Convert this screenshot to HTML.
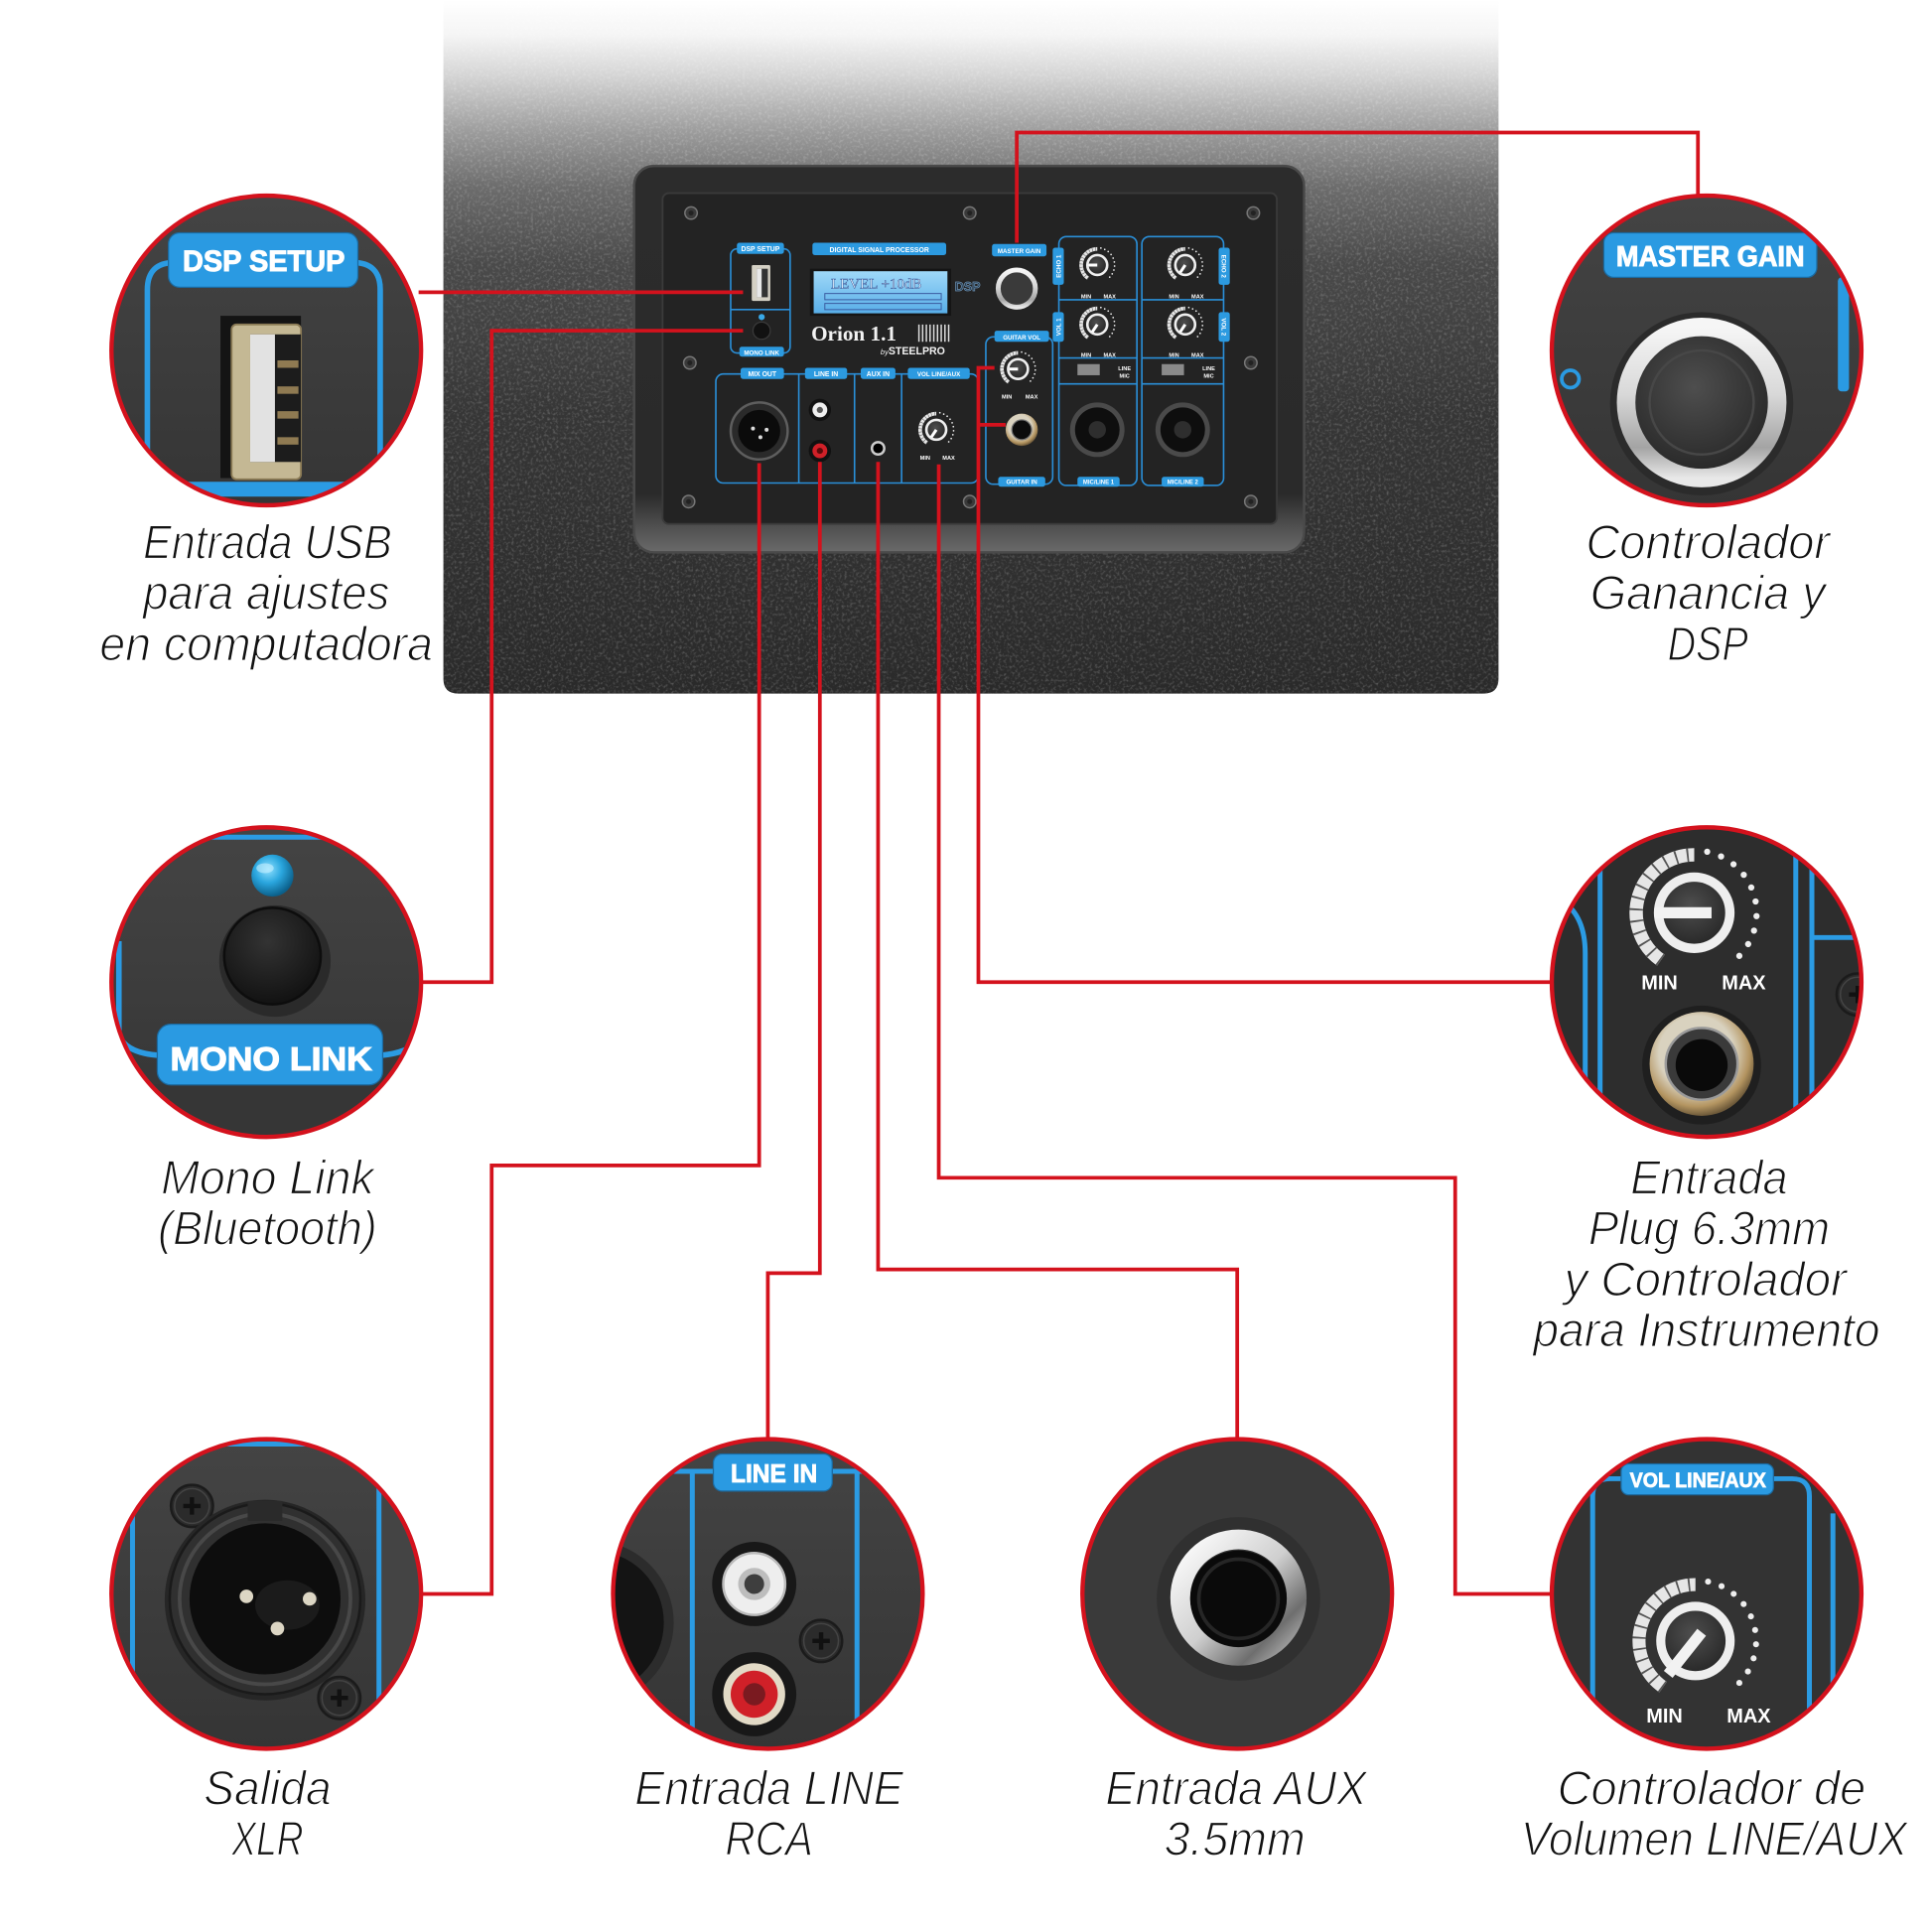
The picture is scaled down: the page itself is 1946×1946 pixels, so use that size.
<!DOCTYPE html>
<html><head><meta charset="utf-8">
<style>
html,body{margin:0;padding:0;background:#fff;}
svg{display:block;}
.lbl{font-family:"Liberation Sans",sans-serif;font-style:italic;font-size:39px;fill:#121212;text-anchor:middle;stroke:#fff;stroke-width:1.1px;}
.pt{font-family:"Liberation Sans",sans-serif;font-weight:bold;fill:#fff;text-anchor:middle;}
</style></head>
<body>
<svg xmlns="http://www.w3.org/2000/svg" width="1946" height="1946" viewBox="0 0 1560 1560">
<defs>
 <linearGradient id="cab" x1="0" y1="0" x2="0" y2="560" gradientUnits="userSpaceOnUse">
  <stop offset="0" stop-color="#ffffff"/>
  <stop offset="0.05" stop-color="#f5f5f5"/>
  <stop offset="0.11" stop-color="#d4d4d4"/>
  <stop offset="0.19" stop-color="#9c9c9c"/>
  <stop offset="0.27" stop-color="#6c6c6c"/>
  <stop offset="0.38" stop-color="#4a4a4a"/>
  <stop offset="0.6" stop-color="#363636"/>
  <stop offset="1" stop-color="#2a2a2a"/>
 </linearGradient>
 <linearGradient id="bevel" x1="0" y1="0" x2="0" y2="1">
  <stop offset="0" stop-color="#2c2c2c"/>
  <stop offset="0.85" stop-color="#2a2a2a"/>
  <stop offset="0.93" stop-color="#4e4e4e"/>
  <stop offset="1" stop-color="#6a6a6a"/>
 </linearGradient>
 <linearGradient id="lcd" x1="0" y1="0" x2="0" y2="1">
  <stop offset="0" stop-color="#9fd8f8"/>
  <stop offset="1" stop-color="#58aee8"/>
 </linearGradient>
 <linearGradient id="silver" x1="0" y1="0" x2="0" y2="1">
  <stop offset="0" stop-color="#f6f6f6"/>
  <stop offset="0.45" stop-color="#d8d8d8"/>
  <stop offset="0.8" stop-color="#a4a4a4"/>
  <stop offset="1" stop-color="#e8e8e8"/>
 </linearGradient>
 <linearGradient id="silver2" x1="0" y1="0" x2="1" y2="1">
  <stop offset="0" stop-color="#ffffff"/>
  <stop offset="0.5" stop-color="#cfcfcf"/>
  <stop offset="0.8" stop-color="#6e6e6e"/>
  <stop offset="1" stop-color="#bdbdbd"/>
 </linearGradient>
 <radialGradient id="gold" cx="0.45" cy="0.4" r="0.6">
  <stop offset="0.6" stop-color="#d9d2bf"/>
  <stop offset="0.85" stop-color="#b49561"/>
  <stop offset="1" stop-color="#6e5a3a"/>
 </radialGradient>
 <radialGradient id="disc" cx="0.45" cy="0.4" r="0.6">
  <stop offset="0" stop-color="#4e4e4e"/>
  <stop offset="1" stop-color="#262626"/>
 </radialGradient>
 <radialGradient id="led" cx="0.4" cy="0.35" r="0.65">
  <stop offset="0" stop-color="#8fe0ff"/>
  <stop offset="0.5" stop-color="#2aa6de"/>
  <stop offset="1" stop-color="#0b5f8a"/>
 </radialGradient>
 <radialGradient id="btn" cx="0.45" cy="0.35" r="0.65">
  <stop offset="0" stop-color="#333"/>
  <stop offset="1" stop-color="#121212"/>
 </radialGradient>
 <linearGradient id="cbg" x1="0" y1="0" x2="0" y2="1">
  <stop offset="0" stop-color="#444"/>
  <stop offset="1" stop-color="#353535"/>
 </linearGradient>
 <filter id="grain" x="0" y="0" width="100%" height="100%">
  <feTurbulence type="fractalNoise" baseFrequency="0.45" numOctaves="2" seed="5"/>
  <feColorMatrix type="matrix" values="0 0 0 0 1  0 0 0 0 1  0 0 0 0 1  0 0 0 2.2 -1.05"/>
 </filter>
 <clipPath id="cabclip"><path d="M358,0 H1210 V548 Q1210,560 1198,560 H370 Q358,560 358,548 Z"/></clipPath>
 <clipPath id="k1"><circle cx="215" cy="283" r="124"/></clipPath>
 <clipPath id="k2"><circle cx="1378" cy="283" r="124"/></clipPath>
 <clipPath id="k3"><circle cx="215" cy="793" r="124"/></clipPath>
 <clipPath id="k4"><circle cx="1378" cy="793" r="124"/></clipPath>
 <clipPath id="k5"><circle cx="215" cy="1287" r="124"/></clipPath>
 <clipPath id="k6"><circle cx="620" cy="1287" r="124"/></clipPath>
 <clipPath id="k7"><circle cx="999" cy="1287" r="124"/></clipPath>
 <clipPath id="k8"><circle cx="1378" cy="1287" r="124"/></clipPath>
 <g id="knob">
  <path d="M-7.46,10.65 A13,13 0 0,1 0,-13" fill="none" stroke="#e6e6e6" stroke-width="3"/>
  <path d="M-7.46,10.65 A13,13 0 0,1 0,-13" fill="none" stroke="#555" stroke-width="3" stroke-dasharray="0.4 2.2"/>
  <path d="M2.91,-13.69 A14,14 0 0,1 8.03,11.47" fill="none" stroke="#eee" stroke-width="1.4" stroke-linecap="round" stroke-dasharray="0 3.3"/>
  <circle r="8" fill="url(#disc)" stroke="#eeeeee" stroke-width="2.1"/>
 </g>
 <g id="screw">
  <circle r="5" fill="#3a3a3a" stroke="#777" stroke-width="1.2"/>
  <circle r="2" fill="#222"/>
 </g>
 <g id="bscrew">
  <circle r="17" fill="#2b2b2b" stroke="#1b1b1b" stroke-width="2"/>
  <circle r="14" fill="none" stroke="#444" stroke-width="1.2"/>
  <path d="M-7,0 H7 M0,-7 V7" stroke="#111" stroke-width="3.5"/>
 </g>
</defs>

<rect width="1560" height="1560" fill="#fff"/>

<!-- cabinet -->
<path d="M358,0 H1210 V548 Q1210,560 1198,560 H370 Q358,560 358,548 Z" fill="url(#cab)"/>
<rect x="358" y="0" width="852" height="560" filter="url(#grain)" clip-path="url(#cabclip)" opacity="0.24"/>

<!-- recess -->
<rect x="512" y="134" width="541" height="312" rx="16" fill="url(#bevel)"/>
<rect x="512" y="134" width="541" height="312" rx="16" fill="none" stroke="#4a4a4a" stroke-width="2"/>
<rect x="535" y="156" width="496" height="267" rx="5" fill="#232323" stroke="#3a3a3a" stroke-width="1.5"/>

<!-- screws -->
<use href="#screw" x="558" y="172"/><use href="#screw" x="783" y="172"/><use href="#screw" x="1012" y="172"/>
<use href="#screw" x="557" y="293"/><use href="#screw" x="1010" y="293"/>
<use href="#screw" x="556" y="405"/><use href="#screw" x="783" y="405"/><use href="#screw" x="1010" y="405"/>

<g stroke="#2a8fd8" stroke-width="1.3" fill="none">
 <rect x="590" y="201" width="48" height="84" rx="5"/>
 <line x1="590" y1="250" x2="638" y2="250"/>
 <rect x="855" y="191" width="63" height="201" rx="6"/>
 <rect x="922" y="191" width="66" height="201" rx="6"/>
 <path d="M855,242 H918 M855,289 H918 M855,310 H918 M922,242 H988 M922,289 H988 M922,310 H988"/>
 <rect x="796" y="272" width="54" height="119" rx="6"/>
 <rect x="578" y="302" width="212" height="88" rx="6"/>
 <path d="M645,302 V390 M690,302 V390 M728,302 V390"/>
</g>
<g fill="#2c9ae0">
 <rect x="595" y="196" width="38" height="9" rx="2"/>
 <rect x="597" y="280" width="36" height="8" rx="2"/>
 <rect x="656" y="196" width="108" height="10" rx="2"/>
 <rect x="801" y="197" width="44" height="10" rx="2"/>
 <rect x="803" y="267" width="44" height="9" rx="2"/>
 <rect x="806" y="385" width="38" height="8" rx="2"/>
 <rect x="870" y="385" width="34" height="8" rx="2"/>
 <rect x="938" y="385" width="34" height="8" rx="2"/>
 <rect x="850" y="200" width="9" height="30" rx="2"/>
 <rect x="850" y="252" width="9" height="24" rx="2"/>
 <rect x="984" y="200" width="9" height="30" rx="2"/>
 <rect x="984" y="252" width="9" height="24" rx="2"/>
 <rect x="598" y="297" width="35" height="9" rx="2"/>
 <rect x="650" y="297" width="34" height="9" rx="2"/>
 <rect x="695" y="297" width="28" height="9" rx="2"/>
 <rect x="733" y="297" width="50" height="9" rx="2"/>
</g>
<g class="pt" font-size="5.5">
 <text x="614" y="203">DSP SETUP</text>
 <text x="615" y="286.5" font-size="5">MONO LINK</text>
 <text x="710" y="203.5">DIGITAL SIGNAL PROCESSOR</text>
 <text x="823" y="204.5" font-size="5">MASTER GAIN</text>
 <text x="825" y="274" font-size="5">GUITAR VOL</text>
 <text x="825" y="391" font-size="5">GUITAR IN</text>
 <text x="887" y="391" font-size="4.8">MIC/LINE 1</text>
 <text x="955" y="391" font-size="4.8">MIC/LINE 2</text>
 <text x="615.5" y="304">MIX OUT</text>
 <text x="667" y="304">LINE IN</text>
 <text x="709" y="304">AUX IN</text>
 <text x="758" y="304" font-size="5">VOL LINE/AUX</text>
 <text transform="translate(856.5,215) rotate(-90)" font-size="5">ECHO 1</text>
 <text transform="translate(856.5,264) rotate(-90)" font-size="5">VOL 1</text>
 <text transform="translate(986.5,215) rotate(90)" font-size="5">ECHO 2</text>
 <text transform="translate(986.5,264) rotate(90)" font-size="5">VOL 2</text>
</g>
<!-- DSP setup contents -->
<rect x="607" y="214" width="15" height="29" rx="1" fill="#d4d0c4"/>
<rect x="611" y="217" width="9" height="23" fill="#333"/>
<rect x="611" y="217" width="4" height="23" fill="#e8e8e8"/>
<circle cx="615" cy="256" r="2.5" fill="#39a9e8"/>
<circle cx="615" cy="267" r="7" fill="#111" stroke="#3a3a3a"/>
<!-- LCD -->
<rect x="654" y="217" width="114" height="38" fill="#151515"/>
<rect x="657" y="219" width="108" height="34" fill="url(#lcd)"/>
<text x="671" y="233" font-family="Liberation Serif,serif" font-size="12" fill="#e8f4ff" stroke="#3a5a9a" stroke-width="0.4">LEVEL   +10dB</text>
<rect x="666" y="237" width="94" height="5" fill="none" stroke="#3b5ba0" stroke-width="0.8"/>
<rect x="666" y="245" width="94" height="5" fill="none" stroke="#3b5ba0" stroke-width="0.8"/>
<text x="771" y="235" font-family="Liberation Sans,sans-serif" font-weight="bold" font-size="10" fill="#25384a" stroke="#6a8fb0" stroke-width="0.6">DSP</text>
<text x="655" y="275" font-family="Liberation Serif,serif" font-weight="bold" font-size="17" fill="#f2f2f2">Orion 1.1</text>
<g stroke="#ddd" stroke-width="1.2"><path d="M742,262V276M745,262V276M748,262V276M751,262V276M754,262V276M757,262V276M760,262V276M763,262V276M766,262V276"/></g>
<text x="711" y="286" font-family="Liberation Sans,sans-serif" font-weight="bold" font-size="8.5" fill="#f2f2f2"><tspan font-style="italic" font-weight="normal" font-size="6">by</tspan>STEELPRO</text>
<!-- master gain knob -->
<circle cx="821" cy="233" r="15" fill="#3a3a3a" stroke="url(#silver)" stroke-width="4"/>
<!-- knobs -->
<use href="#knob" transform="translate(886,214)"/>
<use href="#knob" transform="translate(957,214)"/>
<use href="#knob" transform="translate(886,262)"/>
<use href="#knob" transform="translate(957,262)"/>
<use href="#knob" transform="translate(822,298)"/>
<use href="#knob" transform="translate(756,347)"/>
<g stroke="#fff" stroke-width="2.4">
 <path d="M886,214 h-7 M957,214 l-4,6 M886,262 l-4,6 M957,262 l-4,6 M822,298 h-7 M756,347 l-4,6"/>
</g>
<g class="pt" font-size="4.5">
 <text x="877" y="241">MIN</text><text x="896" y="241">MAX</text>
 <text x="948" y="241">MIN</text><text x="967" y="241">MAX</text>
 <text x="877" y="288">MIN</text><text x="896" y="288">MAX</text>
 <text x="948" y="288">MIN</text><text x="967" y="288">MAX</text>
 <text x="813" y="322">MIN</text><text x="833" y="322">MAX</text>
 <text x="747" y="371">MIN</text><text x="766" y="371">MAX</text>
 <text x="908" y="299">LINE</text><text x="908" y="305">MIC</text>
 <text x="976" y="299">LINE</text><text x="976" y="305">MIC</text>
</g>
<rect x="870" y="294" width="18" height="9" fill="#8a8a8a"/>
<rect x="938" y="294" width="18" height="9" fill="#8a8a8a"/>
<!-- combo jacks -->
<circle cx="886" cy="347" r="22" fill="#4a4a4a"/><circle cx="886" cy="347" r="18" fill="#0e0e0e"/><circle cx="886" cy="347" r="7" fill="#2e2e2e"/>
<circle cx="955" cy="347" r="22" fill="#4a4a4a"/><circle cx="955" cy="347" r="18" fill="#0e0e0e"/><circle cx="955" cy="347" r="7" fill="#2e2e2e"/>
<!-- guitar jack -->
<circle cx="825" cy="347" r="13" fill="url(#gold)"/><circle cx="825" cy="347" r="8" fill="#0c0c0c" stroke="#777"/>
<!-- XLR -->
<circle cx="613" cy="348" r="23" fill="#2a2a2a" stroke="#5e5e5e" stroke-width="2"/>
<circle cx="613" cy="348" r="17" fill="#0b0b0b"/>
<circle cx="608" cy="346" r="1.6" fill="#ddd"/><circle cx="619" cy="347" r="1.6" fill="#ddd"/><circle cx="614" cy="353" r="1.6" fill="#ddd"/>
<!-- RCA -->
<circle cx="662" cy="331" r="9" fill="#111"/><circle cx="662" cy="331" r="6" fill="#eee"/><circle cx="662" cy="331" r="2.5" fill="#555"/>
<circle cx="662" cy="364" r="9" fill="#111"/><circle cx="662" cy="364" r="6" fill="#d02028"/><circle cx="662" cy="364" r="2.5" fill="#5a0a0a"/>
<circle cx="709" cy="362" r="5" fill="#000" stroke="#ccc" stroke-width="2"/>

<!-- red connectors -->
<g fill="none" stroke="#d4121d" stroke-width="3" stroke-linejoin="miter">
 <path d="M338,236 H600"/>
 <path d="M338,793 H397 V267 H600"/>
 <path d="M1371,160 V107 H821 V196"/>
 <path d="M613,374 V941 H397 V1287 H338"/>
 <path d="M662,373 V1028 H620 V1164"/>
 <path d="M709,373 V1025 H999 V1164"/>
 <path d="M758,375 V951 H1175 V1287 H1255"/>
 <path d="M803,297 H790 V793 H1255"/>
 <path d="M790,343 H812"/>
</g>

<!-- C1 DSP SETUP -->
<g clip-path="url(#k1)">
 <rect x="90" y="158" width="250" height="250" fill="url(#cbg)"/>
 <path d="M119,420 V234 Q119,212 141,212 M307,420 V234 Q307,212 285,212" fill="none" stroke="#2b9be3" stroke-width="4.5"/>
 <rect x="90" y="389" width="250" height="12" fill="#2b9be3"/>
 <rect x="136" y="188" width="153" height="44" rx="9" fill="#2a9ae2" stroke="#1b6aa0" stroke-width="1"/>
 <text class="pt" x="213" y="219" font-size="24" textLength="131" lengthAdjust="spacingAndGlyphs" stroke="#fff" stroke-width="0.8">DSP SETUP</text>
 <rect x="178" y="255" width="65" height="131" fill="#141414"/>
 <rect x="187" y="262" width="56" height="125" rx="4" fill="#c4b894"/>
 <rect x="187" y="262" width="56" height="125" rx="4" fill="none" stroke="#8a7a55" stroke-width="1.5"/>
 <rect x="202" y="270" width="41" height="103" fill="#1c1c1c"/>
 <rect x="202" y="270" width="20" height="103" fill="#e2e2e2"/>
 <g fill="#8f7a52"><rect x="224" y="291" width="17" height="6"/><rect x="224" y="312" width="17" height="6"/><rect x="224" y="332" width="17" height="6"/><rect x="224" y="353" width="17" height="6"/></g>
</g>
<circle cx="215" cy="283" r="125" fill="none" stroke="#d4121d" stroke-width="3.5"/>

<!-- C2 MASTER GAIN -->
<g clip-path="url(#k2)">
 <rect x="1253" y="158" width="250" height="250" fill="url(#cbg)"/>
 <rect x="1484" y="224" width="9" height="92" rx="3" fill="#2a9ae2"/>
 <circle cx="1268" cy="306" r="7" fill="none" stroke="#2a9ae2" stroke-width="3"/>
 <rect x="1295" y="188" width="172" height="36" rx="8" fill="#2a9ae2" stroke="#1b6aa0" stroke-width="1"/>
 <text class="pt" x="1381" y="215" font-size="23" textLength="152" lengthAdjust="spacingAndGlyphs" stroke="#fff" stroke-width="0.8">MASTER GAIN</text>
 <circle cx="1374" cy="326" r="74" fill="#2b2b2b"/>
 <circle cx="1374" cy="325" r="61" fill="url(#disc)" stroke="url(#silver)" stroke-width="15"/>
 <circle cx="1374" cy="325" r="42" fill="none" stroke="#474747" stroke-width="2"/>
</g>
<circle cx="1378" cy="283" r="125" fill="none" stroke="#d4121d" stroke-width="3.5"/>

<!-- C3 MONO LINK -->
<g clip-path="url(#k3)">
 <rect x="90" y="668" width="250" height="250" fill="url(#cbg)"/>
 <rect x="90" y="876" width="250" height="50" fill="#363636"/>
 <path d="M140,676 H290" stroke="#2b9be3" stroke-width="4"/>
 <path d="M127,852 Q102,850 96,836 V760 M309,852 Q330,850 342,838" fill="none" stroke="#2b9be3" stroke-width="4.5"/>
 <circle cx="220" cy="707" r="17" fill="url(#led)"/>
 <ellipse cx="214" cy="701" rx="7" ry="4" fill="#c8f0ff" opacity="0.6"/>
 <circle cx="222" cy="776" r="45" fill="#2a2a2a"/>
 <circle cx="220" cy="772" r="39" fill="url(#btn)" stroke="#0d0d0d" stroke-width="2"/>
 <rect x="127" y="827" width="182" height="49" rx="11" fill="#2a9ae2" stroke="#1b6aa0" stroke-width="1"/>
 <text class="pt" x="219" y="864" font-size="27" textLength="163" lengthAdjust="spacingAndGlyphs" stroke="#fff" stroke-width="0.9">MONO LINK</text>
</g>
<circle cx="215" cy="793" r="125" fill="none" stroke="#d4121d" stroke-width="3.5"/>

<!-- C4 GUITAR -->
<g clip-path="url(#k4)">
 <rect x="1253" y="668" width="250" height="250" fill="#2d2d2d"/>
 <path d="M1262,728 Q1280,740 1280,770 V930" fill="none" stroke="#2b9be3" stroke-width="4"/>
 <path d="M1292,660 V930 M1450,660 V930 M1463,660 V930 M1463,757 H1510" fill="none" stroke="#2b9be3" stroke-width="4"/>
 <use href="#bscrew" x="1500" y="803"/>
 <use href="#knob" transform="translate(1368,737) scale(3.6)"/>
 <path d="M1382,737 H1336" stroke="#f2f2f2" stroke-width="9"/>
 <text class="pt" x="1340" y="799" font-size="16">MIN</text>
 <text class="pt" x="1408" y="799" font-size="16">MAX</text>
 <circle cx="1374" cy="860" r="48" fill="#1f1f1f"/>
 <circle cx="1374" cy="859" r="42" fill="url(#gold)"/>
 <circle cx="1374" cy="859" r="29" fill="#3a3a3a" stroke="#9a9a9a" stroke-width="2"/>
 <circle cx="1374" cy="860" r="21" fill="#0a0a0a"/>
</g>
<circle cx="1378" cy="793" r="125" fill="none" stroke="#d4121d" stroke-width="3.5"/>

<!-- C5 XLR -->
<g clip-path="url(#k5)">
 <rect x="90" y="1162" width="250" height="250" fill="url(#cbg)"/>
 <rect x="306" y="1162" width="40" height="250" fill="#444"/>
 <path d="M107,1180 V1420 M306,1180 V1420 M150,1166 H260" fill="none" stroke="#2b9be3" stroke-width="4"/>
 <use href="#bscrew" x="155" y="1216"/>
 <use href="#bscrew" x="274" y="1371"/>
 <circle cx="214" cy="1292" r="81" fill="#262626"/>
 <circle cx="214" cy="1291" r="77" fill="#303030" stroke="#1a1a1a" stroke-width="2"/>
 <circle cx="214" cy="1291" r="69" fill="none" stroke="#484848" stroke-width="3"/>
 <rect x="200" y="1212" width="28" height="16" fill="#2a2a2a"/>
 <circle cx="214" cy="1291" r="61" fill="#0d0d0d"/>
 <ellipse cx="232" cy="1296" rx="26" ry="20" fill="#1b1b1b"/>
 <circle cx="199" cy="1289" r="5.5" fill="#dcd6c4"/>
 <circle cx="250" cy="1291" r="5.5" fill="#dcd6c4"/>
 <circle cx="224" cy="1315" r="5.5" fill="#dcd6c4"/>
</g>
<circle cx="215" cy="1287" r="125" fill="none" stroke="#d4121d" stroke-width="3.5"/>

<!-- C6 LINE IN -->
<g clip-path="url(#k6)">
 <rect x="495" y="1162" width="250" height="250" fill="url(#cbg)"/>
 <circle cx="478" cy="1310" r="62" fill="#141414" stroke="#2c2c2c" stroke-width="8"/>
 <path d="M490,1188 H750 M559,1188 V1420 M692,1188 V1420" fill="none" stroke="#2b9be3" stroke-width="4"/>
 <rect x="576" y="1174" width="96" height="30" rx="7" fill="#2a9ae2" stroke="#1b6aa0" stroke-width="1"/>
 <text class="pt" x="625" y="1197" font-size="21" textLength="70" lengthAdjust="spacingAndGlyphs" stroke="#fff" stroke-width="0.7">LINE IN</text>
 <circle cx="609" cy="1279" r="34" fill="#181818"/>
 <circle cx="609" cy="1279" r="25" fill="#eeeeee" stroke="#bbb" stroke-width="2"/>
 <circle cx="609" cy="1279" r="13" fill="#bdbdbd"/>
 <circle cx="609" cy="1279" r="8" fill="#3e3e3e"/>
 <circle cx="609" cy="1368" r="34" fill="#181818"/>
 <circle cx="609" cy="1368" r="25" fill="#e2dac6"/>
 <circle cx="609" cy="1368" r="19" fill="#d02028"/>
 <circle cx="609" cy="1368" r="9" fill="#7a1a20"/>
 <use href="#bscrew" x="663" y="1325"/>
</g>
<circle cx="620" cy="1287" r="125" fill="none" stroke="#d4121d" stroke-width="3.5"/>

<!-- C7 AUX -->
<g clip-path="url(#k7)">
 <rect x="874" y="1162" width="250" height="250" fill="#3a3a3a"/>
 <circle cx="1000" cy="1291" r="66" fill="#303030"/>
 <circle cx="1000" cy="1290" r="47" fill="none" stroke="url(#silver2)" stroke-width="16"/>
 <circle cx="1000" cy="1291" r="39" fill="#0a0a0a"/>
 <circle cx="1000" cy="1291" r="32" fill="none" stroke="#262626" stroke-width="3"/>
</g>
<circle cx="999" cy="1287" r="125" fill="none" stroke="#d4121d" stroke-width="3.5"/>

<!-- C8 VOL LINE/AUX -->
<g clip-path="url(#k8)">
 <rect x="1253" y="1162" width="250" height="250" fill="#333"/>
 <path d="M1309,1194 H1300 Q1286,1194 1286,1208 V1420 M1432,1194 H1447 Q1461,1194 1461,1208 V1420 M1480,1222 V1420" fill="none" stroke="#2b9be3" stroke-width="4"/>
 <rect x="1309" y="1182" width="123" height="25" rx="6" fill="#2a9ae2" stroke="#1b6aa0" stroke-width="1"/>
 <text class="pt" x="1371" y="1201" font-size="17" textLength="110" lengthAdjust="spacingAndGlyphs" stroke="#fff" stroke-width="0.6">VOL LINE/AUX</text>
 <use href="#knob" transform="translate(1369,1325) scale(3.5)"/>
 <path d="M1374,1318 L1347,1352" stroke="#f2f2f2" stroke-width="9"/>
 <text class="pt" x="1344" y="1391" font-size="16">MIN</text>
 <text class="pt" x="1412" y="1391" font-size="16">MAX</text>
</g>
<circle cx="1378" cy="1287" r="125" fill="none" stroke="#d4121d" stroke-width="3.5"/>

<!-- labels -->
<text class="lbl" x="216" y="451" textLength="201" lengthAdjust="spacingAndGlyphs">Entrada USB</text>
<text class="lbl" x="215" y="492" textLength="199" lengthAdjust="spacingAndGlyphs">para ajustes</text>
<text class="lbl" x="215" y="533" textLength="269" lengthAdjust="spacingAndGlyphs">en computadora</text>

<text class="lbl" x="1379" y="451" textLength="197" lengthAdjust="spacingAndGlyphs">Controlador</text>
<text class="lbl" x="1379" y="492" textLength="190" lengthAdjust="spacingAndGlyphs">Ganancia y</text>
<text class="lbl" x="1379" y="533" textLength="65" lengthAdjust="spacingAndGlyphs">DSP</text>

<text class="lbl" x="216" y="964" textLength="172" lengthAdjust="spacingAndGlyphs">Mono Link</text>
<text class="lbl" x="216" y="1005" textLength="177" lengthAdjust="spacingAndGlyphs">(Bluetooth)</text>

<text class="lbl" x="1380" y="964" textLength="127" lengthAdjust="spacingAndGlyphs">Entrada</text>
<text class="lbl" x="1380" y="1005" textLength="195" lengthAdjust="spacingAndGlyphs">Plug 6.3mm</text>
<text class="lbl" x="1377" y="1046" textLength="228" lengthAdjust="spacingAndGlyphs">y Controlador</text>
<text class="lbl" x="1378" y="1087" textLength="280" lengthAdjust="spacingAndGlyphs">para Instrumento</text>

<text class="lbl" x="216" y="1457" textLength="103" lengthAdjust="spacingAndGlyphs">Salida</text>
<text class="lbl" x="216" y="1498" textLength="58" lengthAdjust="spacingAndGlyphs">XLR</text>
<text class="lbl" x="621" y="1457" textLength="217" lengthAdjust="spacingAndGlyphs">Entrada LINE</text>
<text class="lbl" x="621" y="1498" textLength="71" lengthAdjust="spacingAndGlyphs">RCA</text>
<text class="lbl" x="998" y="1457" textLength="211" lengthAdjust="spacingAndGlyphs">Entrada AUX</text>
<text class="lbl" x="997" y="1498" textLength="114" lengthAdjust="spacingAndGlyphs">3.5mm</text>
<text class="lbl" x="1382" y="1457" textLength="249" lengthAdjust="spacingAndGlyphs">Controlador de</text>
<text class="lbl" x="1384" y="1498" textLength="312" lengthAdjust="spacingAndGlyphs">Volumen LINE/AUX</text>
</svg>
</body></html>
